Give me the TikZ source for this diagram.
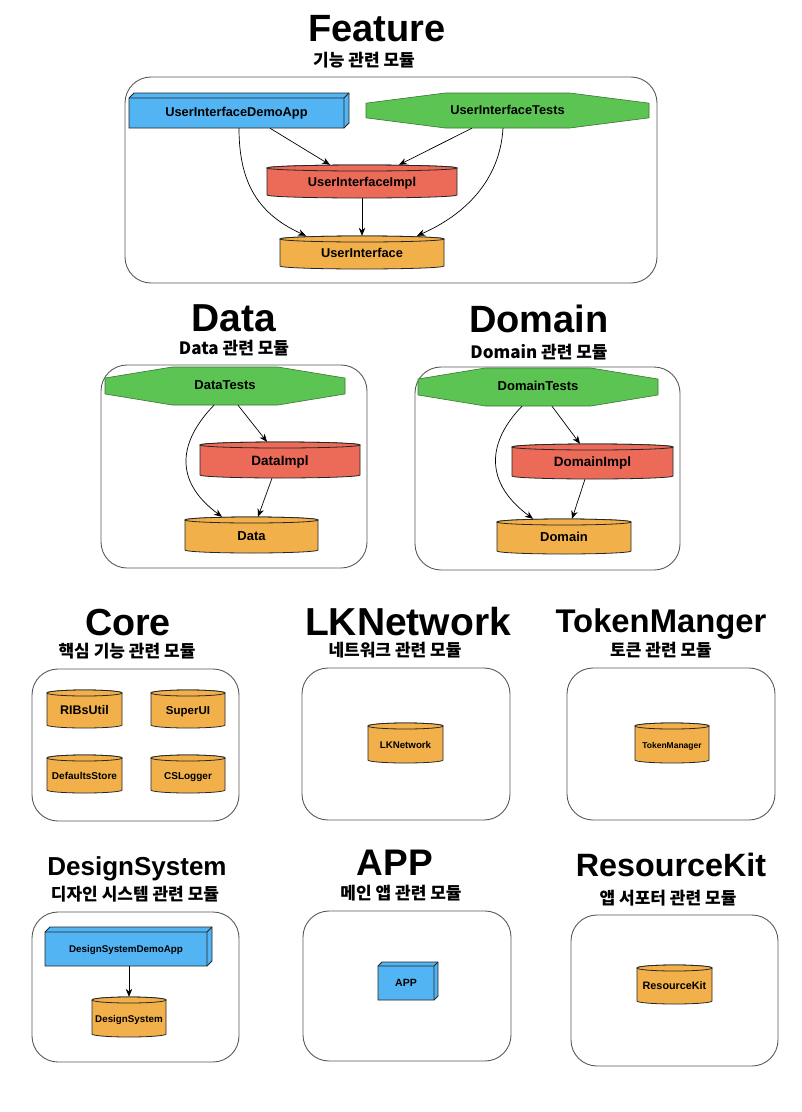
\documentclass[tikz,border=0pt]{standalone}
\usepackage{fontspec}
\setmainfont{Liberation Sans}
\newfontfamily\kr{Noto Sans CJK KR}
\usetikzlibrary{arrows.meta}
\definecolor{uiblue}{HTML}{52B4F3}
\definecolor{tgreen}{HTML}{5CC453}
\definecolor{implred}{HTML}{EB6A58}
\definecolor{modorange}{HTML}{F2B04A}
\definecolor{framecol}{HTML}{5A5A5A}

\newcommand\cylnode[8]{%
  \pgfmathsetmacro\cyLx{#2-#4/2}%
  \pgfmathsetmacro\cyRx{#2+#4/2}%
  \pgfmathsetmacro\cyTy{#3-#5/2+3}%
  \pgfmathsetmacro\cyBy{#3+#5/2-3}%
  \pgfmathsetmacro\cyHw{#4/2}%
  \path[shapeline,fill=#6] (\cyLx,\cyTy) -- (\cyLx,\cyBy) arc[start angle=180,end angle=0,x radius=\cyHw,y radius=3] -- (\cyRx,\cyTy) arc[start angle=0,end angle=-180,x radius=\cyHw,y radius=3] -- cycle;
  \path[shapeline,fill=#6] (#2,\cyTy) ellipse[x radius=\cyHw,y radius=3];
  \node[lbl,font=\bfseries\fontsize{#7}{#7}\selectfont,minimum width=#4*1pt,minimum height=#5*1pt] (#1) at (#2,#3+1.5) {#8};
}
\newcommand\boxnode[8]{%
  \pgfmathsetmacro\bxFr{#4-#6}%
  \pgfmathsetmacro\bxFt{#3+#6}%
  \pgfmathsetmacro\bxCx{(#2+\bxFr)/2}%
  \pgfmathsetmacro\bxCy{(\bxFt+#5)/2}%
  \pgfmathsetmacro\bxW{\bxFr-#2}%
  \pgfmathsetmacro\bxH{#5-\bxFt}%
  \path[shapeline,fill=uiblue] (#2,\bxFt) -- (#2+#6,#3) -- (#4,#3) -- (#4,#5-#6) -- (\bxFr,#5) -- (#2,#5) -- cycle;
  \draw[shapeline] (#2,\bxFt) -- (\bxFr,\bxFt) -- (#4,#3) (\bxFr,\bxFt) -- (\bxFr,#5);
  \node[lbl,font=\bfseries\fontsize{#7}{#7}\selectfont,minimum width=\bxW*1pt,minimum height=\bxH*1pt] (#1) at (\bxCx,\bxCy) {#8};
}
\newcommand\octnode[7]{%
  \pgfmathsetmacro\ocW{#4-#2}%
  \pgfmathsetmacro\ocH{#5-#3}%
  \pgfmathsetmacro\ocA{#2+0.28*\ocW}%
  \pgfmathsetmacro\ocB{#4-0.28*\ocW}%
  \pgfmathsetmacro\ocC{#3+0.29*\ocH}%
  \pgfmathsetmacro\ocD{#5-0.29*\ocH}%
  \path[hexline,fill=tgreen] (#2,\ocC) -- (\ocA,#3) -- (\ocB,#3) -- (#4,\ocC) -- (#4,\ocD) -- (\ocB,#5) -- (\ocA,#5) -- (#2,\ocD) -- cycle;
  \node[lbl,font=\bfseries\fontsize{#6}{#6}\selectfont,minimum width=\ocW*1pt,minimum height=\ocH*1pt] (#1) at ({(#2+#4)/2},{(#3+#5)/2}) {#7};
}

\begin{document}
\begin{tikzpicture}[x=1pt,y=-1pt,
  shapeline/.style={draw=black!85,line width=0.8pt},
  hexline/.style={draw=tgreen!60!black,line width=0.6pt},
  lbl/.style={inner sep=0pt,text height=0.7em,text depth=0pt},
  region/.style={draw=framecol,line width=0.9pt,rounded corners=26pt,inner sep=0pt},
  title/.style={font=\bfseries\fontsize{#1}{#1}\selectfont,anchor=base,inner sep=0pt},
  sub/.style={font=\kr\bfseries\fontsize{17}{19}\selectfont,inner sep=0pt},
  conn/.style={draw=black,line width=0.7pt,-{Stealth[length=8pt,width=6.5pt]}}]
\fill[white] (0,0) rectangle (802,1112);
\useasboundingbox (0,0) rectangle (802,1112);

% ---------- Feature ----------
\node[title=38] (tFeature) at (377,41) {Feature};
\node[sub] (sFeature) at (364,60) {기능 관련 모듈};
\node[region,minimum width=532pt,minimum height=206pt] (rFeature) at (391,180) {};
\boxnode{demo}{129}{93}{349}{128}{5}{12.8}{UserInterfaceDemoApp}
\octnode{uitests}{366}{93}{649}{128}{12.8}{UserInterfaceTests}
\cylnode{uiimpl}{362}{181.5}{190}{33}{implred}{12.8}{UserInterfaceImpl}
\cylnode{ui}{362}{252.5}{164}{33}{modorange}{12.8}{UserInterface}
\draw[conn] ([xshift=33.5pt]demo.south) -- ([xshift=-32pt,yshift=1.5pt]uiimpl.north);
\draw[conn] ([xshift=-35.5pt]uitests.south) -- ([xshift=37pt,yshift=1.5pt]uiimpl.north);
\draw[conn] ([yshift=1.5pt]uiimpl.south) -- ([yshift=1.5pt]ui.north);
\draw[conn] ([xshift=2.5pt]demo.south) .. controls +(0,57) and +(-46,-21) .. ([xshift=-56pt,yshift=1.5pt]ui.north);
\draw[conn] ([xshift=-4.5pt]uitests.south) .. controls +(-3,52) and +(48,-21) .. ([xshift=55pt,yshift=1.5pt]ui.north);

% ---------- Data ----------
\node[title=39] (tData) at (234,331) {Data};
\node[sub] (sData) at (234,348) {Data 관련 모듈};
\node[region,minimum width=266pt,minimum height=203pt] (rData) at (234,466.5) {};
\octnode{datatests}{105}{367}{345}{405}{13}{DataTests}
\cylnode{dataimpl}{280}{460}{160}{36}{implred}{13.5}{DataImpl}
\cylnode{data}{251.5}{535}{133}{36}{modorange}{13}{Data}
\draw[conn] ([xshift=13pt]datatests.south) -- ([xshift=-13pt,yshift=1.5pt]dataimpl.north);
\draw[conn] ([xshift=-8pt,yshift=1.5pt]dataimpl.south) -- ([xshift=6.5pt,yshift=1.5pt]data.north);
\draw[conn] ([xshift=-11pt]datatests.south) .. controls +(-34,35) and +(-50,-37) .. ([xshift=-29.5pt,yshift=1.5pt]data.north);

% ---------- Domain ----------
\node[title=38] (tDomain) at (539,332) {Domain};
\node[sub] (sDomain) at (539,352) {Domain 관련 모듈};
\node[region,minimum width=265pt,minimum height=203pt] (rDomain) at (547.5,468.5) {};
\octnode{domtests}{418}{368}{658}{406}{13}{DomainTests}
\cylnode{domimpl}{592.5}{461.5}{161}{35}{implred}{13.5}{DomainImpl}
\cylnode{dom}{564}{536.5}{134}{35}{modorange}{13}{Domain}
\draw[conn] ([xshift=14pt]domtests.south) -- ([xshift=-12.5pt,yshift=1.5pt]domimpl.north);
\draw[conn] ([xshift=-7.5pt,yshift=1.5pt]domimpl.south) -- ([xshift=8pt,yshift=1.5pt]dom.north);
\draw[conn] ([xshift=-16pt]domtests.south) .. controls +(-34,35) and +(-50,-37) .. ([xshift=-31pt,yshift=1.5pt]dom.north);

% ---------- Core ----------
\node[title=37.7] (tCore) at (128,635) {Core};
\node[sub] (sCore) at (127,651) {핵심 기능 관련 모듈};
\node[region,minimum width=207pt,minimum height=152pt] (rCore) at (135.5,745) {};
\cylnode{ribs}{84.5}{709}{75}{38}{modorange}{12.5}{RIBsUtil}
\cylnode{superui}{188}{709}{74}{38}{modorange}{11.5}{SuperUI}
\cylnode{defaults}{84.5}{774}{75}{38}{modorange}{10}{DefaultsStore}
\cylnode{cslogger}{188}{774}{74}{38}{modorange}{10}{CSLogger}

% ---------- LKNetwork ----------
\node[title=39] (tLK) at (408,635) {LKNetwork};
\node[sub] (sLK) at (395,650) {네트워크 관련 모듈};
\node[region,minimum width=208pt,minimum height=152pt] (rLK) at (406,744) {};
\cylnode{lknet}{405.5}{743}{75}{40}{modorange}{9.7}{LKNetwork}

% ---------- TokenManger ----------
\node[title=32.8] (tToken) at (661,632) {TokenManger};
\node[sub] (sToken) at (661,650) {토큰 관련 모듈};
\node[region,minimum width=208pt,minimum height=152pt] (rToken) at (671,744) {};
\cylnode{tokenm}{672}{743}{74}{40}{modorange}{8.5}{TokenManager}

% ---------- DesignSystem ----------
\node[title=26] (tDS) at (137,875) {DesignSystem};
\node[sub] (sDS) at (135,894) {디자인 시스템 관련 모듈};
\node[region,minimum width=207pt,minimum height=150pt] (rDS) at (135.5,987) {};
\boxnode{dsdemo}{45}{927}{212}{966}{5}{9.8}{DesignSystemDemoApp}
\cylnode{dsys}{129}{1017}{74}{40}{modorange}{9.8}{DesignSystem}
\draw[conn] (dsdemo.south -| dsys.north) -- ([yshift=1.5pt]dsys.north);

% ---------- APP ----------
\node[title=37] (tAPP) at (395,875) {APP};
\node[sub] (sAPP) at (401,893) {메인 앱 관련 모듈};
\node[region,minimum width=208pt,minimum height=150pt] (rAPP) at (407,986) {};
\boxnode{app}{378}{962}{438}{1000}{4}{10.5}{APP}

% ---------- ResourceKit ----------
\node[title=32.3] (tRK) at (671,876) {ResourceKit};
\node[sub] (sRK) at (668,898) {앱 서포터 관련 모듈};
\node[region,minimum width=207pt,minimum height=151pt] (rRK) at (674.5,990.5) {};
\cylnode{rkit}{674.5}{984.5}{75}{39}{modorange}{10.8}{ResourceKit}
\end{tikzpicture}
\end{document}
